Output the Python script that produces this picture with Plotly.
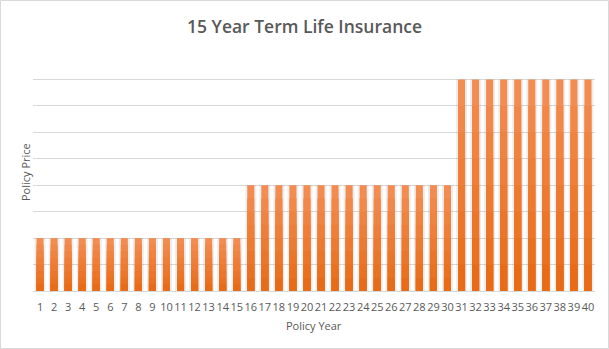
import plotly.graph_objects as go

years = [str(i) for i in range(1, 41)]
prices = [2]*15 + [4]*15 + [8]*10

W, H = 609, 349
L, R, T, B = 33, 14, 53, 58

fig = go.Figure()
# soft shadow halo behind bars
fig.add_trace(go.Bar(x=years, y=prices, width=0.78,
                     marker=dict(color="rgba(0,0,0,0.07)", line=dict(width=0)),
                     hoverinfo="skip"))
# vertical gradient: lighter top, darker bottom
top = (242, 140, 80)
bot = (232, 108, 24)
N = 8
for k in range(N):
    f = k / (N - 1)
    c = tuple(round(top[i] + (bot[i] - top[i]) * f) for i in range(3))
    frac = 1 - k / N
    fig.add_trace(go.Bar(x=years, y=[p * frac for p in prices], width=0.5,
                         marker=dict(color="rgb(%d,%d,%d)" % c, line=dict(width=0))))
fig.update_layout(
    width=W, height=H,
    margin=dict(l=L, r=R, t=T, b=B),
    paper_bgcolor="white", plot_bgcolor="white",
    showlegend=False, barmode="overlay",
    title=dict(text="15 Year Term Life Insurance", x=0.5, xanchor="center",
               y=1 - 27/H, yanchor="middle",
               font=dict(family="Open Sans", size=17.5, color="#595959", weight=600)),
    font=dict(family="Open Sans", color="#595959"),
)
fig.update_xaxes(type="category", showgrid=False, ticks="outside", ticklen=6,
                 tickcolor="rgba(0,0,0,0)", showline=True,
                 linecolor="#D9D9D9", linewidth=1, tickangle=0,
                 tickfont=dict(family="Liberation Sans Narrow, Open Sans", size=11, color="#595959"))
fig.update_yaxes(range=[0, 9], dtick=1, showgrid=True, gridcolor="#D9D9D9",
                 gridwidth=1, showticklabels=False, zeroline=False)
fig.add_annotation(text="Policy Year", xref="paper", yref="paper",
                   x=0.5, y=-(325 - (H - B)) / (H - T - B), yanchor="middle",
                   showarrow=False, font=dict(size=11, color="#595959"))
fig.add_annotation(text="Policy Price", xref="paper", yref="paper",
                   x=-(L - 25) / (W - L - R), xanchor="center", y=0.5,
                   textangle=-90, showarrow=False,
                   font=dict(size=11, color="#595959"))
pw, ph = W - L - R, H - T - B
fig.add_shape(type="rect", xref="paper", yref="paper",
              x0=-(L - 0.5) / pw, x1=1 + (R - 0.5) / pw,
              y0=-(B - 0.5) / ph, y1=1 + (T - 0.5) / ph,
              line=dict(color="#D9D9D9", width=1), layer="below")
fig.write_html("out.html")
